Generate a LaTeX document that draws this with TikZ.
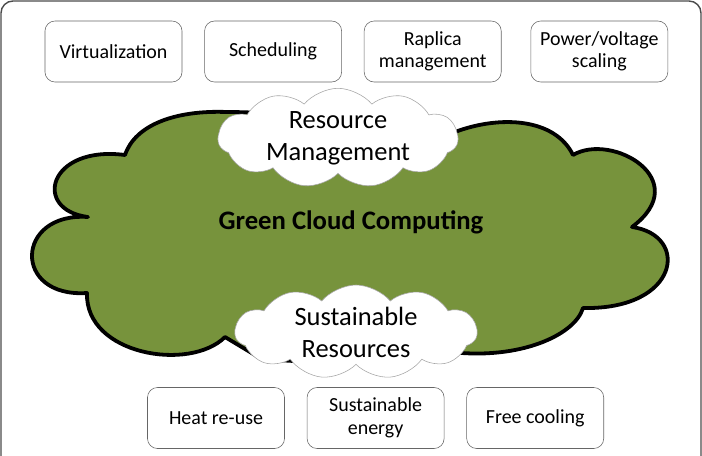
\documentclass[tikz,border=0pt]{standalone}
\usepackage{fontspec}
\setmainfont{Carlito}
\usetikzlibrary{positioning,shapes.symbols}
\definecolor{leafgreen}{HTML}{77933C}

\begin{document}
\begin{tikzpicture}[x=0.025cm,y=-0.025cm,node distance=0.55cm,
  item/.style={draw=gray!80!black, rounded corners=0.25cm, minimum width=3.425cm, minimum height=1.525cm,
    align=center, inner sep=2pt, font=\fontsize{14.2}{16}\selectfont},
  puff/.style={cloud, cloud puffs=11, cloud puff arc=100, cloud ignores aspect, draw=gray!70, fill=white,
    inner sep=0pt, align=center, font=\fontsize{18.8}{22.8}\selectfont}]
  \useasboundingbox (0,0) rectangle (702,455);
  \clip (0,0) rectangle (702,455);
  % outer frame, open at the bottom
  \draw[gray!60!black, line width=1pt, rounded corners=0.3cm] (1,1) rectangle (701,490);

  % main cloud, drawn lobe by lobe
  \draw[line width=2.7pt, fill=leafgreen, line join=round]
    (125,155) .. controls (135,125) and (175,110) .. (227,112)
    .. controls (300,112) and (400,128) .. (455,132)
    .. controls (500,115) and (555,118) .. (573,155)
    .. controls (612,132) and (695,180) .. (632,227)
    .. controls (690,235) and (680,310) .. (583,308)
    .. controls (575,335) and (520,360) .. (451,352)
    .. controls (400,362) and (310,365) .. (260,358)
    -- (225,337)
    .. controls (190,372) and (85,355) .. (87,293)
    .. controls (12,298) and (15,212) .. (88,217)
    .. controls (32,210) and (48,145) .. (125,155) -- cycle;
  \node (gcc) [font=\bfseries\fontsize{19}{23}\selectfont] at (351,222) {Green Cloud Computing};

  % small clouds
  \node (rm) [puff, minimum width=6cm, minimum height=2.25cm] at (338,138) {Resource\\Management};
  \node (sr) [puff, minimum width=6.05cm, minimum height=2.35cm] at (356,332) {Sustainable\\Resources};

  % management techniques
  \node (virt) [item] at (113.5,51.5) {Virtualization};
  \node (sched) [item, right=of virt] {Scheduling};
  \node (rep) [item, right=of sched] {Raplica\\management};
  \node (dvfs) [item, right=0.725cm of rep] {Power/voltage\\scaling};

  % sustainable resources
  \node (heat) [item] at (216,418) {Heat re-use};
  \node (energy) [item, right=of heat] {Sustainable\\energy};
  \node (cool) [item, right=of energy] {Free cooling};
\end{tikzpicture}
\end{document}
